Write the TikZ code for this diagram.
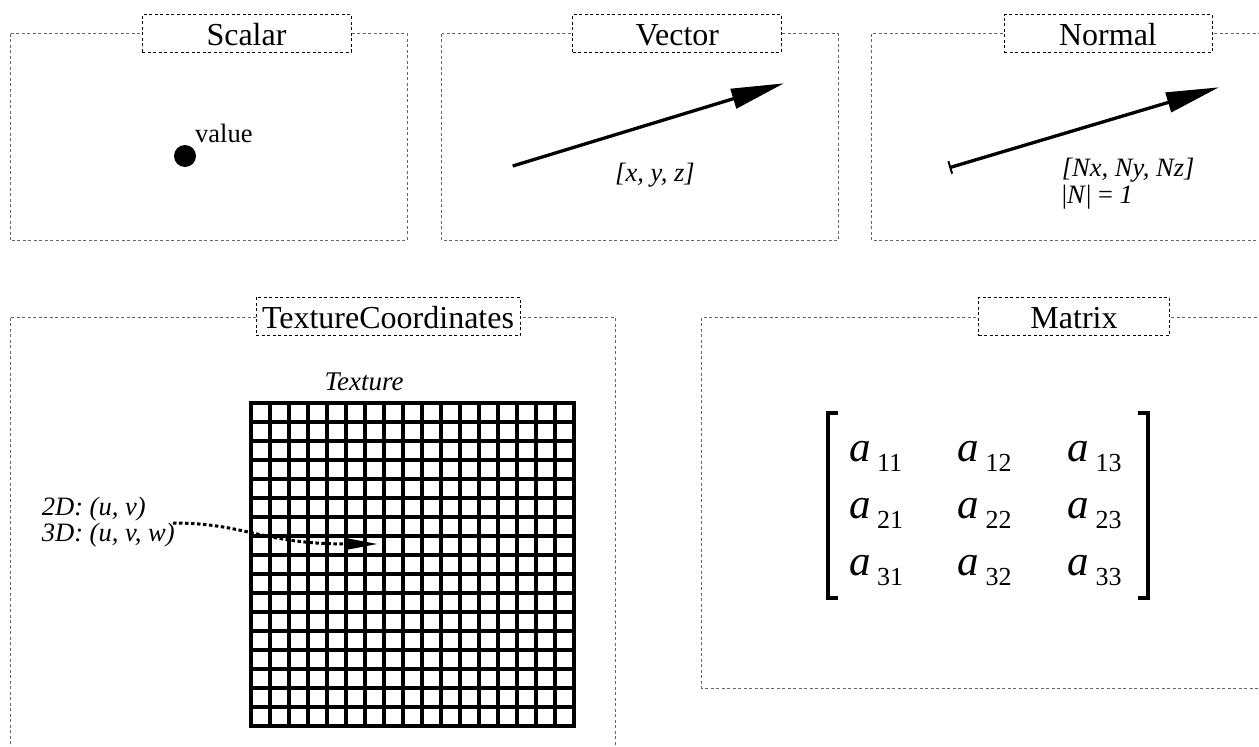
\documentclass[tikz,border=0pt]{standalone}
\usepackage{fontspec}
\setmainfont{Liberation Serif}
\usetikzlibrary{arrows.meta}
\begin{document}
\begin{tikzpicture}[x=1pt,y=-1pt,
  outerbox/.style={draw=black!60, line width=1pt, dash pattern=on 3pt off 2.5pt},
  titlebox/.style={draw=black, fill=white, line width=1pt, dash pattern=on 3pt off 2.5pt,
    inner sep=0pt, minimum height=37.5pt, text height=24pt, text depth=0pt,
    font=\fontsize{32}{37}\selectfont},
  lbl/.style={inner sep=0pt, anchor=base west, font=\fontsize{26.5}{31}\selectfont},
  ilbl/.style={inner sep=0pt, anchor=base west, font=\fontsize{26.5}{31}\selectfont\itshape},
  mata/.style={inner sep=0pt, anchor=base west, font=\fontsize{43}{50}\selectfont\itshape},
  matsub/.style={inner sep=0pt, anchor=base west, font=\fontsize{26}{30}\selectfont},
  vec/.style={line width=3.3pt},
  gridline/.style={line width=3.5pt, line cap=rect},
  dotline/.style={line width=3pt, dash pattern=on 3.5pt off 2.5pt}
]
\useasboundingbox (0,0) rectangle (1259,747);
\clip (0,0) rectangle (1259,747);

% ---------- frames ----------
\draw[outerbox] (10,33.5) rectangle (407,240.7);
\draw[outerbox] (441.7,33.5) rectangle (838,240.7);
\draw[outerbox] (871.7,33.5) rectangle (1280,240.7);
\draw[outerbox] (10,317.7) rectangle (615.7,770);
\draw[outerbox] (701.7,317.7) rectangle (1280,688);

% ---------- titles ----------
\node[titlebox, minimum width=209pt] (tScalar) at (246.5,33.25) {Scalar};
\node[titlebox, minimum width=208.7pt] (tVector) at (677.3,33.25) {Vector};
\node[titlebox, minimum width=208pt] (tNormal) at (1108,33.25) {Normal};
\node[titlebox, minimum width=264pt, minimum height=38.4pt] (tTex) at (388,316.5) {TextureCoordinates};
\node[titlebox, minimum width=190.6pt, minimum height=38.4pt] (tMatrix) at (1074,316.5) {Matrix};

% ---------- Scalar ----------
\node[circle, fill=black, minimum size=22pt, inner sep=0pt] (dot) at (185,156) {};
\node[lbl] (value) at (195,142) {value};

% ---------- Vector ----------
\coordinate (v0) at (512.7,166);
\coordinate (v1) at (784,83.3);
\draw[vec, -{Triangle[length=53pt,width=20pt]}] (v0) -- (v1);
\node[ilbl] (vlab) at (615,181.5) {[x, y, z]};

% ---------- Normal ----------
\coordinate (n0) at (949.3,167.7);
\coordinate (n1) at (1219,87.3);
\draw[vec, {Bar[width=13pt,line width=2pt]}-{Triangle[length=53pt,width=20pt]}] (n0) -- (n1);
\node[ilbl] (nlab1) at (1061.7,176) {[Nx, Ny, Nz]};
\node[lbl] (nlab2) at (1061.7,203.3) {|\textit{N}| = \textit{1}};

% ---------- Texture ----------
\node[inner sep=0pt, anchor=base, font=\fontsize{27}{32}\selectfont\itshape] (texlab) at (364,390) {Texture};
\foreach \i in {0,...,17} {
  \draw[gridline] (251+19*\i,403) -- (251+19*\i,726);
  \draw[gridline] (251,403+19*\i) -- (574,403+19*\i);
}
\node[ilbl] (l2d) at (41.7,515) {2D: (u, v)};
\node[ilbl] (l3d) at (41.7,541) {3D: (u, v, w)};
\coordinate (c0) at (173,523);
\coordinate (c1) at (378,544);
\draw[dotline, -{Triangle[length=32pt,width=11pt]}] (c0) .. controls (245,523) and (262,544) .. (c1);

% ---------- Matrix ----------
\draw[line width=3.5pt] (838,413) -| (828,598) -- (838,598);
\draw[line width=3.5pt] (1138,413) -| (1148,598) -- (1138,598);
\foreach \r/\yb in {1/461.7, 2/518.3, 3/575} {
  \foreach \c/\xa in {1/849, 2/957.3, 3/1067.3} {
    \node[mata] (a\r\c) at (\xa,\yb) {a};
    \node[matsub] (s\r\c) at (\xa+28,\yb+10) {\r\c};
  }
}
\end{tikzpicture}
\end{document}
